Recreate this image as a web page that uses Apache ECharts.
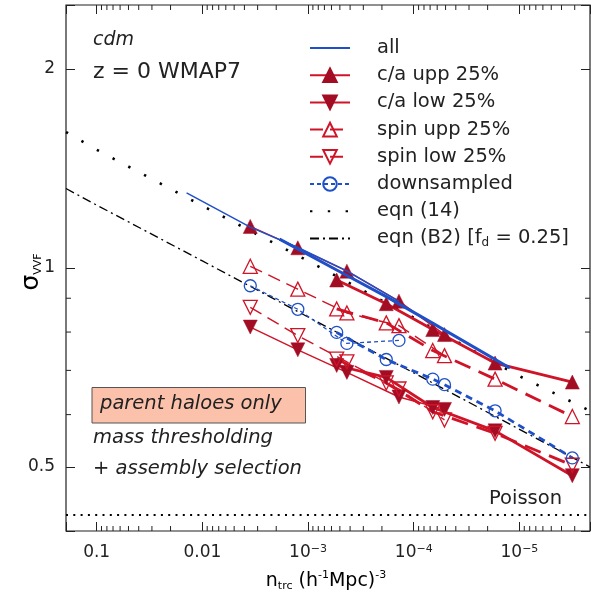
<!DOCTYPE html>
<html><head><meta charset="utf-8">
<script src="https://cdn.jsdelivr.net/npm/echarts@6/dist/echarts.min.js"></script>
<style>html,body{margin:0;padding:0;background:#fff}#c{width:591px;height:603px}</style>
</head><body><div id="c"></div>
<script>
// ---------------- data ----------------
const xThin  = [3.52e-3, 1.25e-3, 4.29e-4, 1.38e-4, 5.12e-5];
const xThick = [5.36e-4, 1.82e-4, 6.61e-5, 1.70e-5, 3.16e-6];

const allThinX  = [1.41e-2, 3.52e-3, 1.25e-3, 4.29e-4, 1.38e-4];
const allThinY  = [1.299, 1.153, 1.074, 0.990, 0.890];
const allThickX = [1.86e-3, 5.36e-4, 1.82e-4, 6.70e-5, 1.23e-5];
const allThickY = [1.106, 0.993, 0.905, 0.826, 0.706];

const caUppThinY  = [1.156, 1.073, 0.989, 0.891, 0.793];
const caUppThickY = [0.959, 0.883, 0.807, 0.718, 0.672];
const caLowThinY  = [0.814, 0.752, 0.695, 0.638, 0.611];
const caLowThickY = [0.712, 0.683, 0.615, 0.567, 0.485];
const spUppThinY  = [1.006, 0.929, 0.855, 0.818, 0.737];
const spUppThickY = [0.867, 0.826, 0.750, 0.679, 0.596];
const spLowThinY  = [0.872, 0.790, 0.721, 0.656, 0.589];
const spLowThickY = [0.728, 0.670, 0.606, 0.562, 0.503];

const dsThinX  = [3.52e-3, 1.25e-3, 4.29e-4, 1.38e-4];
const dsThinY  = [0.940, 0.866, 0.769, 0.777];
const dsThickX = [5.36e-4, 1.82e-4, 6.61e-5, 5.12e-5, 1.70e-5, 3.16e-6];
const dsThickY = [0.799, 0.727, 0.679, 0.666, 0.608, 0.516];

const eqX   = [0.195, 0.1, 0.01, 1e-3, 1e-4, 1e-5, 2.15e-6];
const eq14Y = [1.606, 1.510, 1.242, 1.025, 0.841, 0.686, 0.608];
const eqB2Y = [1.319, 1.245, 1.025, 0.843, 0.694, 0.570, 0.500];
const poissonX = [0.195, 2.15e-6];
const poissonY = [0.423, 0.423];

const xTickValues = [1e-1, 1e-2, 1e-3, 1e-4, 1e-5];
const xTickLabels = ['0.1', '0.01', '10{sup|−3}', '10{sup|−4}', '10{sup|−5}'];
const yTickValues = [0.5, 1, 2];
const yTickLabels = ['0.5', '1', '2'];
const xMinorMant = [2, 3, 4, 5, 6, 7, 8, 9];
const xMinorDecades = [1e-1, 1e-2, 1e-3, 1e-4, 1e-5, 1e-6];
const yMinorTicks = [0.6, 0.7, 0.8, 0.9];

const legendNames = ['all', 'c/a upp 25%', 'c/a low 25%', 'spin upp 25%', 'spin low 25%', 'downsampled', 'eqn (14)', 'eqn (B2) [fd = 0.25]'];

// ---------------- style ----------------
const FONT = 'DejaVu Sans';
const RED = '#cf1428';
const DRED = '#a30d24';
const BLUE = '#1f50c8';
const INK = '#222';
const X_MIN = 2.15e-6, X_MAX = 0.195, Y_MIN = 0.4, Y_MAX = 2.5;

const UP = 'path://M5,0L10,9L0,9Z';
const DOWN = 'path://M0,0L10,0L5,9Z';

const pairs = (xs, ys) => xs.map((x, i) => [x, ys[i]]);
const noMark = { color: 'rgba(0,0,0,0)', borderColor: 'rgba(0,0,0,0)', borderWidth: 0 };

function line(name, xs, ys, o) {
  return {
    type: 'line', name, data: pairs(xs, ys),
    symbol: o.symbol || 'circle', symbolSize: o.size || 14, showSymbol: !!o.symbol,
    symbolKeepAspect: false,
    lineStyle: { color: o.color, width: o.width, type: o.dash || 'solid', cap: 'butt' },
    itemStyle: o.item || noMark,
    emphasis: { disabled: true }, silent: true, z: o.z || 3, animation: false
  };
}
const filled = { color: DRED, borderColor: DRED, borderWidth: 0.5 };
const hollowR = { color: 'rgba(255,255,255,0)', borderColor: RED, borderWidth: 1.3 };
const hollowB = { color: 'rgba(255,255,255,0)', borderColor: BLUE, borderWidth: 1.3 };

function labelFor(values, labels) {
  return v => {
    for (let i = 0; i < values.length; i++) {
      if (Math.abs(Math.log10(v) - Math.log10(values[i])) < 1e-6) return labels[i];
    }
    return '';
  };
}

const axisCommon = {
  axisLine: { show: false },
  splitLine: { show: false },
  minorTick: { show: false },
  axisTick: { show: true, inside: true, length: 9, lineStyle: { color: INK, width: 1 } },
};

const xMinorData = [];
xMinorDecades.forEach(d => xMinorMant.forEach(m => xMinorData.push([m * d / 10, 1])));
const yMinorData = yMinorTicks.map(v => [1e-3, v]);

const option = {
  animation: false,
  backgroundColor: '#fff',
  grid: { left: 66, right: 1, top: 5, bottom: 72, show: true, borderColor: INK, borderWidth: 1.2, backgroundColor: 'transparent', containLabel: false, outerBoundsMode: 'none' },
  xAxis: [
    Object.assign({}, axisCommon, {
      type: 'log', logBase: 10, min: X_MIN, max: X_MAX, inverse: true, position: 'bottom',
      axisLabel: { show: true, margin: 13, color: INK, fontFamily: FONT, fontSize: 17, formatter: labelFor(xTickValues, xTickLabels),
        rich: { sup: { fontFamily: FONT, fontSize: 11, color: INK, verticalAlign: 'top', lineHeight: 12 } } }
    }),
    Object.assign({}, axisCommon, {
      type: 'log', logBase: 10, min: X_MIN, max: X_MAX, inverse: true, position: 'top',
      axisLabel: { show: false }
    })
  ],
  yAxis: [
    Object.assign({}, axisCommon, {
      type: 'log', logBase: 2, min: Y_MIN, max: Y_MAX, position: 'left',
      axisLabel: { show: true, margin: 11, color: INK, fontFamily: FONT, fontSize: 17, formatter: labelFor(yTickValues, yTickLabels) }
    }),
    Object.assign({}, axisCommon, {
      type: 'log', logBase: 2, min: Y_MIN, max: Y_MAX, position: 'right',
      axisLabel: { show: false }
    })
  ],
  legend: {
    show: true, orient: 'vertical', left: 309, top: 38, padding: 0,
    itemWidth: 40, itemHeight: 17, itemGap: 7.2,
    selectedMode: false,
    data: legendNames,
    formatter: n => n === 'eqn (B2) [fd = 0.25]' ? 'eqn (B2) [f{sub|d} = 0.25]' : n,
    textStyle: { fontFamily: FONT, fontSize: 19.5, color: INK, lineHeight: 20, padding: [0, 0, 0, 22],
      rich: { sub: { fontFamily: FONT, fontSize: 12, color: INK, verticalAlign: 'bottom', lineHeight: 14 } } }
  },
  series: [
    line('eqn (14)', eqX, eq14Y, { color: '#000', width: 2.6, dash: [2.4, 15.4], z: 2 }),
    line('eqn (B2) [fd = 0.25]', eqX, eqB2Y, { color: '#000', width: 1.3, dash: [9, 4, 2, 4], z: 2 }),
    line('Poisson', poissonX, poissonY, { color: '#000', width: 2, dash: [2, 5.3], z: 2 }),

    line('all', allThinX, allThinY, { color: BLUE, width: 1.5, z: 4 }),
    line('all', allThickX, allThickY, { color: BLUE, width: 3, z: 4 }),

    line('c/a upp 25%', xThin, caUppThinY, { color: RED, width: 1.4, symbol: UP, item: filled }),
    line('c/a upp 25%', xThick, caUppThickY, { color: RED, width: 2.8, symbol: UP, item: filled }),
    line('c/a low 25%', xThin, caLowThinY, { color: RED, width: 1.4, symbol: DOWN, item: filled }),
    line('c/a low 25%', xThick, caLowThickY, { color: RED, width: 2.8, symbol: DOWN, item: filled }),
    line('spin upp 25%', xThin, spUppThinY, { color: RED, width: 1.4, dash: [13, 7], symbol: UP, item: hollowR }),
    line('spin upp 25%', xThick, spUppThickY, { color: RED, width: 2.8, dash: [17, 9], symbol: UP, item: hollowR }),
    line('spin low 25%', xThin, spLowThinY, { color: RED, width: 1.4, dash: [13, 7], symbol: DOWN, item: hollowR }),
    line('spin low 25%', xThick, spLowThickY, { color: RED, width: 2.8, dash: [17, 9], symbol: DOWN, item: hollowR }),
    line('downsampled', dsThinX, dsThinY, { color: BLUE, width: 1.3, dash: [4, 3], symbol: 'circle', size: 12, item: hollowB }),
    line('downsampled', dsThickX, dsThickY, { color: BLUE, width: 2.8, dash: [7, 5], symbol: 'circle', size: 12, item: hollowB }),

    {
      type: 'custom', silent: true, z: 6, clip: false, data: xMinorData,
      renderItem(params, api) {
        const cs = params.coordSys;
        const x = api.coord([api.value(0), 1])[0];
        if (x < cs.x + 1 || x > cs.x + cs.width - 1) return null;
        const b = cs.y + cs.height, t = cs.y;
        const st = { stroke: INK, lineWidth: 1 };
        return { type: 'group', children: [
          { type: 'line', shape: { x1: x, y1: b, x2: x, y2: b - 5 }, style: st },
          { type: 'line', shape: { x1: x, y1: t, x2: x, y2: t + 5 }, style: st }
        ] };
      }
    },
    {
      type: 'custom', silent: true, z: 6, clip: false, data: yMinorData,
      renderItem(params, api) {
        const cs = params.coordSys;
        const y = api.coord([1e-3, api.value(1)])[1];
        const l = cs.x, r = cs.x + cs.width;
        const st = { stroke: INK, lineWidth: 1 };
        return { type: 'group', children: [
          { type: 'line', shape: { x1: l, y1: y, x2: l + 5, y2: y }, style: st },
          { type: 'line', shape: { x1: r, y1: y, x2: r - 5, y2: y }, style: st }
        ] };
      }
    }
  ],
  graphic: [
    { type: 'text', left: 93, top: 31, style: { text: 'cdm', font: 'italic 19px "DejaVu Sans"', fill: INK } },
    { type: 'text', left: 93, top: 61, style: { text: 'z = 0 WMAP7', font: '22px "DejaVu Sans"', fill: INK } },
    { type: 'rect', shape: { x: 92, y: 387.5, width: 213.5, height: 35.5 }, style: { fill: '#fbc1ab', stroke: '#555', lineWidth: 1 }, z: 10 },
    { type: 'text', left: 100, top: 394, z: 11, style: { text: 'parent haloes only', font: 'italic 19.5px "DejaVu Sans"', fill: INK } },
    { type: 'text', left: 93, top: 428, z: 11, style: { text: 'mass thresholding', font: 'italic 19.5px "DejaVu Sans"', fill: INK } },
    { type: 'text', left: 93, top: 459, z: 11, style: { text: '+ assembly selection', font: 'italic 19.5px "DejaVu Sans"', fill: INK } },
    { type: 'text', left: 489, top: 489, z: 11, style: { text: 'Poisson', font: '19.5px "DejaVu Sans"', fill: INK } },
    { type: 'text', x: 326, y: 581, z: 11, style: {
        text: '{b|n}{s|trc}{b| (h}{p|-1}{b|Mpc)}{p|-3}', align: 'center', verticalAlign: 'middle',
        rich: {
          b: { fontFamily: FONT, fontSize: 19, color: INK, lineHeight: 22 },
          s: { fontFamily: FONT, fontSize: 11, color: INK, verticalAlign: 'bottom', lineHeight: 14 },
          p: { fontFamily: FONT, fontSize: 11, color: INK, verticalAlign: 'top', lineHeight: 12 }
        } } },
    { type: 'text', x: 31, y: 272, rotation: Math.PI / 2, z: 11, style: {
        text: '{g|σ}{s|VVF}', align: 'center', verticalAlign: 'middle',
        rich: {
          g: { fontFamily: FONT, fontSize: 25, color: INK, lineHeight: 26 },
          s: { fontFamily: FONT, fontSize: 11, color: INK, verticalAlign: 'bottom', lineHeight: 16 }
        } } }
  ]
};

const chart = echarts.init(document.getElementById('c'), null, { renderer: 'canvas', width: 591, height: 603, devicePixelRatio: 1 });
chart.setOption(option);
</script></body></html>
